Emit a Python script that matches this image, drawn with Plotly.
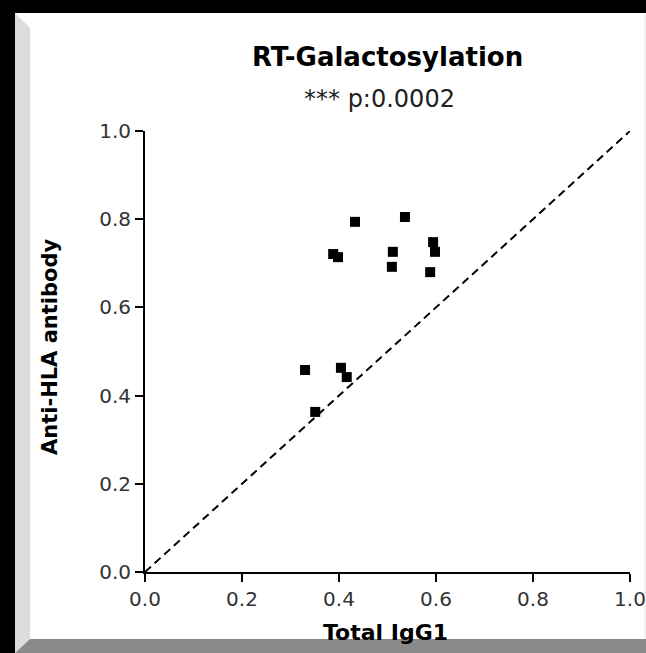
import plotly.graph_objects as go

# ---- data ----
total_igg1 = [0.433, 0.536, 0.388, 0.398, 0.511, 0.509, 0.594, 0.598, 0.588,
              0.330, 0.404, 0.416, 0.351]
anti_hla = [0.794, 0.805, 0.721, 0.714, 0.726, 0.692, 0.748, 0.726, 0.680,
            0.458, 0.463, 0.442, 0.363]
identity_x = [0.0, 1.0]
identity_y = [0.0, 1.0]
tick_vals = [0.0, 0.2, 0.4, 0.6, 0.8, 1.0]
tick_text = ["0.0", "0.2", "0.4", "0.6", "0.8", "1.0"]
title_text = "RT-Galactosylation"
subtitle_text = "*** p:0.0002"
x_title = "Total IgG1"
y_title = "Anti-HLA antibody"

# ---- layout geometry (pixels) ----
W, H = 646, 653
L, R, T, B = 145, 630, 131, 572


def px(x):
    return (x - L) / (R - L)


def py(y):
    return (B - y) / (B - T)


FONT = "DejaVu Sans"

fig = go.Figure()
fig.add_trace(go.Scatter(
    x=identity_x, y=identity_y, mode="lines",
    line=dict(color="black", width=2, dash="8px,5px"),
    hoverinfo="skip", showlegend=False, cliponaxis=False))
fig.add_trace(go.Scatter(
    x=total_igg1, y=anti_hla, mode="markers",
    marker=dict(symbol="square", size=10, color="black", line=dict(width=0)),
    showlegend=False, cliponaxis=False))

axis_common = dict(
    range=[0, 1], showgrid=False, zeroline=False, showline=True, automargin=False,
    linecolor="black", linewidth=2, ticks="outside", ticklen=8, tickwidth=2,
    tickcolor="black", tickvals=tick_vals, ticktext=tick_text,
    tickfont=dict(family=FONT, size=20, color="#333333"), fixedrange=True)

fig.update_xaxes(**axis_common)
fig.update_yaxes(**axis_common)


def poly(points, fill):
    d = "M " + " L ".join(f"{px(a):.5f},{py(b):.5f}" for a, b in points) + " Z"
    return dict(type="path", xref="paper", yref="paper", path=d,
                fillcolor=fill, line=dict(width=0), layer="below")


shapes = [
    poly([(0, 0), (W, 0), (W, 13), (0, 13)], "black"),
    poly([(0, 0), (15, 0), (15, H), (0, H)], "black"),
    poly([(15, 13), (30, 28), (30, 639), (15, 653)], "#dcdcdc"),
    poly([(15, 653), (30, 639), (W, 639), (W, H)], "#8a8a8a"),
    dict(type="line", xref="paper", yref="paper", x0=px(645), x1=px(645),
         y0=py(14), y1=py(639), line=dict(color="#e6e6e6", width=1), layer="below"),
]

annotations = [
    dict(text=f"<b>{title_text}</b>", x=px(387), y=py(57), xref="paper", yref="paper",
         xanchor="center", yanchor="middle", showarrow=False,
         font=dict(family=FONT, size=26, color="black")),
    dict(text=subtitle_text, x=px(379), y=py(99), xref="paper", yref="paper",
         xanchor="center", yanchor="middle", showarrow=False,
         font=dict(family=FONT, size=24, color="#222222")),
    dict(text=f"<b>{y_title}</b>", x=px(50), y=py(347), xref="paper", yref="paper",
         xanchor="center", yanchor="middle", textangle=-90, showarrow=False,
         font=dict(family=FONT, size=21, color="black")),
    dict(text=f"<b>{x_title}</b>", x=px(385), y=py(632), xref="paper", yref="paper",
         xanchor="center", yanchor="middle", showarrow=False,
         font=dict(family=FONT, size=22, color="black")),
]

fig.update_layout(
    width=W, height=H, autosize=False,
    margin=dict(l=L, r=W - R, t=T, b=H - B, pad=0, autoexpand=False),
    paper_bgcolor="white", plot_bgcolor="white",
    shapes=shapes, annotations=annotations, showlegend=False)

fig.write_html(
    "out.html",
    config={"responsive": False, "displayModeBar": False, "staticPlot": True},
    post_script="document.body.style.margin='0';document.body.style.padding='0';"
                "document.body.style.overflow='hidden';",
)
